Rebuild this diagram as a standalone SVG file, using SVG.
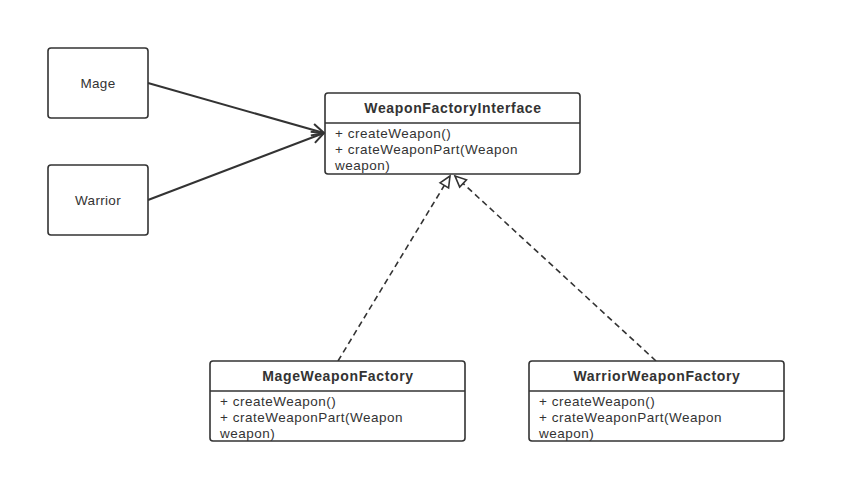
<svg xmlns="http://www.w3.org/2000/svg" width="846" height="504" viewBox="0 0 846 504">
<style>
.box{fill:#fff;stroke:#333;stroke-width:1.6}
.sep{stroke:#333;stroke-width:1.6}
.t{font-family:"Liberation Sans","Noto Sans",sans-serif;font-size:13.5px;letter-spacing:0.5px;fill:#333}
.b{font-weight:bold;font-size:14px;letter-spacing:0.65px;text-anchor:middle}
.c{text-anchor:middle;letter-spacing:0.3px}
.conn{fill:none;stroke:#333;stroke-width:2}
.dash{fill:none;stroke:#333;stroke-width:1.6;stroke-dasharray:6,4}
</style>
<defs>
<marker id="open" markerWidth="16" markerHeight="16" refX="14" refY="8" orient="auto" markerUnits="userSpaceOnUse">
<path d="M2,2 L14,8 L2,14" fill="none" stroke="#333" stroke-width="2"/>
</marker>
<marker id="tri" markerWidth="16" markerHeight="16" refX="14" refY="8" orient="auto" markerUnits="userSpaceOnUse">
<path d="M3,3 L14,8 L3,13 Z" fill="#fff" stroke="#333" stroke-width="1.6"/>
</marker>
</defs>
<rect width="846" height="504" fill="#fff"/>
<g id="connectors">
<line class="conn" x1="148" y1="83" x2="324" y2="133" marker-end="url(#open)"/>
<line class="conn" x1="148" y1="200" x2="324" y2="133" marker-end="url(#open)"/>
<line class="dash" x1="338" y1="361" x2="450" y2="176" marker-end="url(#tri)"/>
<line class="dash" x1="656" y1="361" x2="455" y2="176" marker-end="url(#tri)"/>
</g>
<g id="mage">
<rect class="box" x="48" y="48" width="100" height="70" rx="3"/>
<text class="t c" x="98" y="88">Mage</text>
</g>
<g id="warrior">
<rect class="box" x="48" y="165" width="100" height="70" rx="3"/>
<text class="t c" x="98" y="205">Warrior</text>
</g>
<g id="weaponFactoryInterface">
<rect class="box" x="325" y="93" width="255" height="81" rx="3"/>
<line class="sep" x1="325" y1="123" x2="580" y2="123"/>
<text class="t b" x="453" y="113">WeaponFactoryInterface</text>
<text class="t" x="335" y="138">+ createWeapon()</text>
<text class="t" x="335" y="154">+ crateWeaponPart(Weapon</text>
<text class="t" x="335" y="170">weapon)</text>
</g>
<g id="mageWeaponFactory">
<rect class="box" x="210" y="361" width="255" height="80" rx="3"/>
<line class="sep" x1="210" y1="391" x2="465" y2="391"/>
<text class="t b" x="338" y="381">MageWeaponFactory</text>
<text class="t" x="220" y="406">+ createWeapon()</text>
<text class="t" x="220" y="422">+ crateWeaponPart(Weapon</text>
<text class="t" x="220" y="438">weapon)</text>
</g>
<g id="warriorWeaponFactory">
<rect class="box" x="529" y="361" width="255" height="80" rx="3"/>
<line class="sep" x1="529" y1="391" x2="784" y2="391"/>
<text class="t b" x="657" y="381">WarriorWeaponFactory</text>
<text class="t" x="539" y="406">+ createWeapon()</text>
<text class="t" x="539" y="422">+ crateWeaponPart(Weapon</text>
<text class="t" x="539" y="438">weapon)</text>
</g>
</svg>
